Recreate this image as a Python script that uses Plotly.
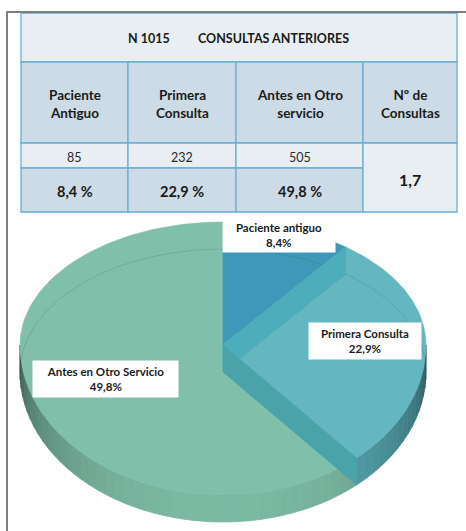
import numpy as np
import plotly.graph_objects as go

# ---------------- data ----------------
title_n = "N 1015"
title_text = "CONSULTAS ANTERIORES"
header_labels = ["Paciente<br>Antiguo", "Primera<br>Consulta", "Antes en Otro<br>servicio", "Nº de<br>Consultas"]
counts = [85, 232, 505]
percent_labels = ["8,4 %", "22,9 %", "49,8 %"]
mean_consultas = "1,7"
pie_labels = ["Paciente antiguo", "Primera Consulta", "Antes en Otro Servicio"]
pie_pct_labels = ["8,4%", "22,9%", "49,8%"]

# ---------------- layout / style constants ----------------
W, H = 466, 531
FONT = "Lato"
TXT = "#1a1a1a"
col_edges = [21, 128, 236, 363, 457]
row_edges = [13, 62, 143, 168, 212]
LIGHT = "#E8EEF2"
DARK = "#CDDBE6"
BORDER = "#6AAFD4"

CX, CY = 223, 345
A = 203
B_BACK, B_FRONT = 123, 150
DEPTH = 27
top_colors = ["#3F98B8", "#64B6C1", "#80BFAA"]
side_colors = ["#3F98B8", "#58A9B3", "#7CBAA4"]
wall_colors = {"end0": "#4DADBA", "end1": "#4AA3A8"}
label_boxes = [  # center x, center y, width, height
    (279, 235, 112, 34),
    (365, 341, 112, 36),
    (105.5, 379, 145, 36),
]


def rim(theta_deg, z):
    t = np.radians(theta_deg)
    s = np.sin(t)
    b = np.where(s > 0, B_BACK, B_FRONT)
    return CX + A * np.cos(t), CY - b * s + z * DEPTH


def hex_rgb(h):
    h = h.lstrip("#")
    return [int(h[i:i + 2], 16) for i in (0, 2, 4)]


def shade(h, f):
    r, g, b = hex_rgb(h)
    return "rgb(%d,%d,%d)" % (min(255, r * f), min(255, g * f), min(255, b * f))


def poly(xs, ys, color, width=0.6, lcolor=None):
    return go.Scatter(
        x=list(xs) + [xs[0]], y=list(ys) + [ys[0]], mode="lines", fill="toself",
        fillcolor=color, line=dict(color=lcolor or color, width=width),
        hoverinfo="skip", showlegend=False)


fig = go.Figure()

# slice angles (start at 12 o'clock, clockwise)
fr = np.array(counts, dtype=float) / sum(counts)
starts = 90 - 360 * np.concatenate([[0], np.cumsum(fr)[:-1]])
ends = starts - 360 * fr

# ---- outer side walls (front half only), shaded ----
for k in range(len(counts)):
    lo, hi = max(ends[k], -180), min(starts[k], 0)
    if lo >= hi:
        continue
    nseg = max(4, int((hi - lo) / 3))
    edges = np.linspace(hi, lo, nseg + 1)
    for i in range(nseg):
        th = np.linspace(edges[i], edges[i + 1], 4)
        xt, yt = rim(th, 0)
        xb, yb = rim(th[::-1], 1)
        mid = 0.5 * (edges[i] + edges[i + 1])
        f = 0.4 + 0.6 * abs(np.sin(np.radians(mid))) ** 0.6
        c = shade(side_colors[k], f)
        fig.add_trace(poly(np.r_[xt, xb], np.r_[yt, yb], c, 0.8))

# ---- top faces ----
for k in [2, 0, 1]:
    th = np.linspace(starts[k], ends[k], 120)
    xs, ys = rim(th, 0)
    fig.add_trace(poly(np.r_[CX, xs], np.r_[CY, ys], top_colors[k], 0.6))

# faint back bottom rim seen through the translucent top
th = np.linspace(0, 180, 120)
xb, yb = rim(th, 1)
fig.add_trace(go.Scatter(x=xb, y=yb, mode="lines", line=dict(color="rgba(40,90,90,0.18)", width=1),
                         hoverinfo="skip", showlegend=False))

# ---- inner cut walls visible through the translucent faces ----
for ang, col in [(ends[0], wall_colors["end0"]), (ends[1], wall_colors["end1"])]:
    x0, y0 = rim(ang, 0)
    x1, y1 = rim(ang, 1)
    fig.add_trace(poly([CX, float(x0), float(x1), CX], [CY, float(y0), float(y1), CY + DEPTH], col, 0.6))

# ---------------- table ----------------
shapes = []
annotations = []


def cell(x0, x1, y0, y1, fill):
    shapes.append(dict(type="rect", xref="x", yref="y", x0=x0, x1=x1, y0=y0, y1=y1,
                       fillcolor=fill, line=dict(color=BORDER, width=1.3), layer="above"))


def text(x, y, s, size, bold=True, color=TXT):
    annotations.append(dict(x=x, y=y, xref="x", yref="y", text=("<b>%s</b>" % s) if bold else s,
                            showarrow=False, font=dict(family=FONT, size=size, color=color),
                            xanchor="center", yanchor="middle"))


cell(col_edges[0], col_edges[-1], row_edges[0], row_edges[1], LIGHT)
for i in range(4):
    cell(col_edges[i], col_edges[i + 1], row_edges[1], row_edges[2], DARK)
for i in range(3):
    cell(col_edges[i], col_edges[i + 1], row_edges[2], row_edges[3], LIGHT)
    cell(col_edges[i], col_edges[i + 1], row_edges[3], row_edges[4], DARK)
cell(col_edges[3], col_edges[4], row_edges[2], row_edges[4], LIGHT)

text(148.5, 38, title_n, 12.5)
text(273, 38, title_text, 12.5)
for i, h in enumerate(header_labels):
    text(0.5 * (col_edges[i] + col_edges[i + 1]), 104, h, 13.5)
for i in range(3):
    cx = 0.5 * (col_edges[i] + col_edges[i + 1])
    text(cx, 157, str(counts[i]), 12.5, bold=False, color="#2a2a2a")
    text(cx, 191, percent_labels[i], 14.5)
text(0.5 * (col_edges[3] + col_edges[4]), 179, mean_consultas, 16)

# gray frame lines
shapes.append(dict(type="line", xref="x", yref="y", x0=7, x1=7, y0=12, y1=H,
                   line=dict(color="#7F7F7F", width=2), layer="above"))
shapes.append(dict(type="line", xref="x", yref="y", x0=6, x1=W, y0=12, y1=12,
                   line=dict(color="#7F7F7F", width=2), layer="above"))

# pie data labels
for (lx, ly, lw, lh), lab, pct in zip(label_boxes, pie_labels, pie_pct_labels):
    annotations.append(dict(x=lx, y=ly, xref="x", yref="y",
                            text="<b>%s</b><br><b>%s</b>" % (lab, pct), showarrow=False,
                            font=dict(family=FONT, size=11.5, color=TXT), bgcolor="white",
                            width=lw, height=lh, borderpad=0, align="center",
                            xanchor="center", yanchor="middle"))

fig.update_layout(
    width=W, height=H, autosize=False,
    margin=dict(l=0, r=0, t=0, b=0),
    paper_bgcolor="white", plot_bgcolor="white",
    xaxis=dict(range=[0, W], visible=False, fixedrange=True),
    yaxis=dict(range=[H, 0], visible=False, fixedrange=True),
    shapes=shapes, annotations=annotations, showlegend=False,
)
fig.write_html("out.html", config={"displayModeBar": False},
               post_script="document.body.style.margin='0';document.body.style.overflow='hidden';")
